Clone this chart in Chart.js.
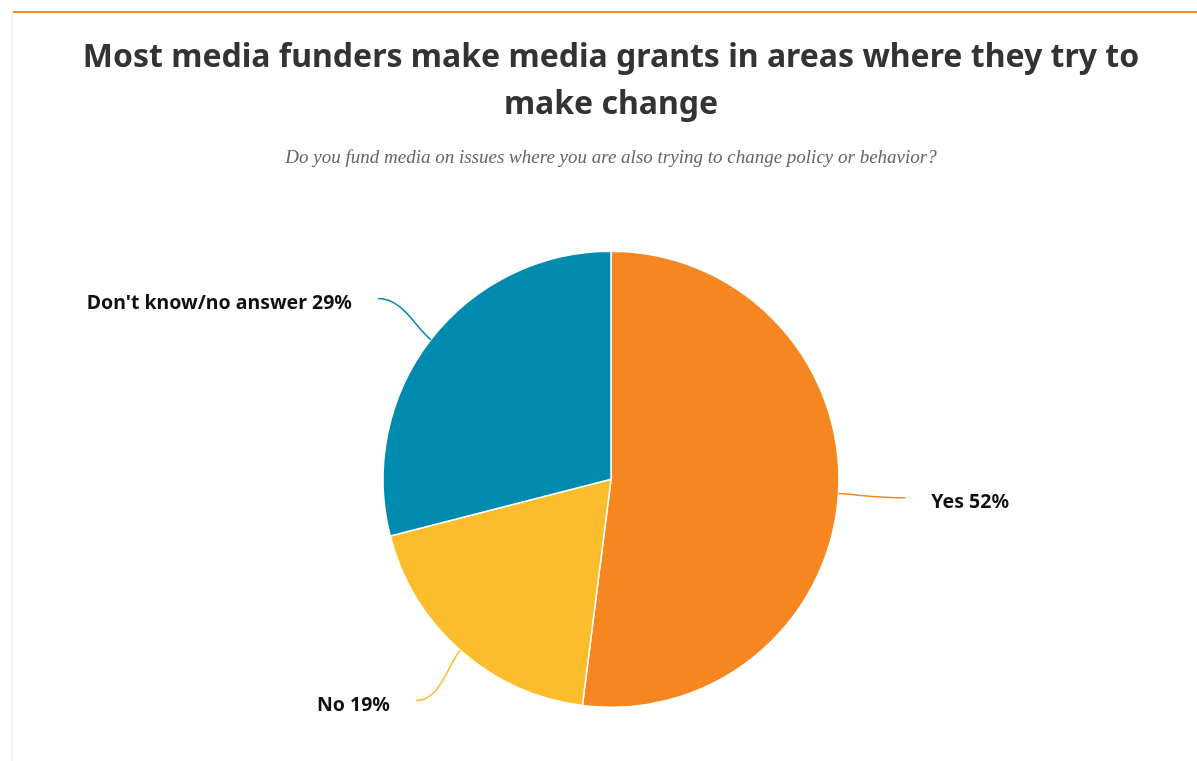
<!DOCTYPE html>
<html>
<head>
<meta charset="utf-8">
<script src="https://cdn.jsdelivr.net/npm/chart.js@4"></script>
<style>
  html, body { margin: 0; padding: 0; background: #fff; overflow: hidden; }
  body { width: 1197px; height: 761px; position: relative; }
  #topline { position: absolute; left: 13px; top: 11px; width: 1190px; height: 2px; background: #f0892a; }
  #leftline { position: absolute; left: 11px; top: 13px; width: 2px; height: 760px; background: #f0f0f0; }
  #wrap { position: absolute; left: 13px; top: 13px; width: 1196px; height: 748px; }
</style>
</head>
<body>
<div id="topline"></div>
<div id="leftline"></div>
<div id="wrap"><canvas id="myChart"></canvas></div>
<script>
var labels = ["Yes", "No", "Don't know/no answer"];
var values = [52, 19, 29];
var sliceColors = ["#f58620", "#fbbd2b", "#008aad"];

var titleLines = ["Most media funders make media grants in areas where they try to", "make change"];
var subtitleText = "Do you fund media on issues where you are also trying to change policy or behavior?";

var pieLabels = {
  id: "pieLabels",
  afterDatasetsDraw: function(chart) {
    var ctx = chart.ctx;
    var meta = chart.getDatasetMeta(0);
    meta.data.forEach(function(arc, i) {
      var p = arc.getProps(["x", "y", "startAngle", "endAngle", "outerRadius"], true);
      var mid = (p.startAngle + p.endAngle) / 2;
      var cos = Math.cos(mid), sin = Math.sin(mid);
      var x0 = p.x + cos * p.outerRadius, y0 = p.y + sin * p.outerRadius;
      var x1 = p.x + cos * (p.outerRadius + 67), y1 = p.y + sin * (p.outerRadius + 67);
      var side = cos >= 0 ? 1 : -1;
      ctx.save();
      ctx.strokeStyle = sliceColors[i];
      ctx.lineWidth = 1.5;
      ctx.beginPath();
      ctx.moveTo(x0, y0);
      ctx.bezierCurveTo(x0 + cos * 20, y0 + sin * 20, x1 - side * 25, y1, x1, y1);
      ctx.stroke();
      ctx.fillStyle = "#111";
      ctx.font = "bold 19.5px 'Noto Sans'";
      ctx.textAlign = side > 0 ? "left" : "right";
      ctx.textBaseline = "middle";
      ctx.fillText(labels[i] + " " + values[i] + "%", x1 + side * 26, y1 + 5);
      ctx.restore();
    });
  }
};

new Chart("myChart", {
  type: "pie",
  data: {
    labels: labels,
    datasets: [{
      data: values,
      backgroundColor: sliceColors,
      borderColor: "#ffffff",
      borderWidth: 1.5
    }]
  },
  options: {
    responsive: true,
    maintainAspectRatio: false,
    animation: false,
    layout: { padding: { top: 0, bottom: 53, left: 0, right: 0 } },
    plugins: {
      legend: { display: false },
      tooltip: { enabled: false },
      title: {
        display: true,
        text: titleLines,
        color: "#333333",
        font: { family: "'Noto Sans'", size: 32, weight: "bold", lineHeight: 1.45 },
        padding: { top: 22, bottom: 19 }
      },
      subtitle: {
        display: true,
        text: subtitleText,
        color: "#666666",
        font: { family: "Liberation Serif", size: 19, style: "italic", lineHeight: 1.2 },
        padding: { top: 0, bottom: 81 }
      }
    }
  },
  plugins: [pieLabels]
});
</script>
</body>
</html>
